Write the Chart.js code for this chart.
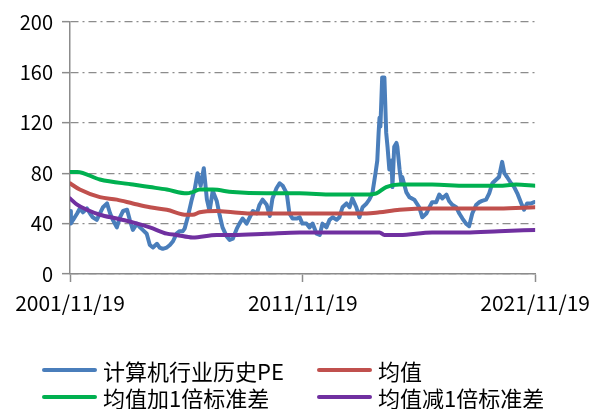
<!DOCTYPE html>
<html>
<head>
<meta charset="utf-8">
<script src="https://cdn.jsdelivr.net/npm/chart.js@4/dist/chart.umd.min.js"></script>
<style>
  html, body { margin: 0; padding: 0; background: #fff; }
  #wrap { position: relative; width: 598px; height: 409px; }
  #c { position: absolute; left: 0; top: 0; }
  .lg { position: absolute; display: flex; align-items: center; font-family: "Noto Sans CJK SC", sans-serif; font-size: 22px; color: #000; white-space: nowrap; line-height: 1; }
  .lg .sw { width: 55px; height: 4px; border-radius: 2px; margin-right: 6px; }
</style>
</head>
<body>
<div id="wrap">
  <canvas id="c" width="598" height="409"></canvas>
  <div id="legend"></div>
</div>
<script>
// x positions are weeks since 2001/11/19
const tickWeeks = [0, 522, 1043];
const tickLabels = ['2001/11/19', '2011/11/19', '2021/11/19'];

const seriesNames = ['计算机行业历史PE', '均值', '均值加1倍标准差', '均值减1倍标准差'];
const seriesColors = ['#4a7ebb', '#c0504d', '#00b050', '#7030a0'];

const peWeeks = [0,2,7,16,22,29,38,45,51,60,67,74,83,90,96,105,112,119,128,134,141,150,157,163,172,179,186,195,201,208,217,224,231,239,246,253,257,264,273,280,286,293,300,307,313,320,329,336,342,351,358,365,374,380,387,396,403,410,419,425,432,441,448,454,463,470,477,486,492,499,508,515,521,530,537,544,553,560,566,575,582,589,598,604,611,620,627,633,642,649,656,665,671,678,685,689,692,694,696,700,705,709,712,716,721,723,727,732,734,739,743,745,754,761,772,783,790,799,806,812,821,828,835,844,850,857,866,873,880,888,895,902,911,918,924,933,940,947,956,962,969,974,980,989,996,1003,1012,1018,1025,1034,1041];
const peValues = [50,40,43,48,52,49,52,48,45,43,48,53,56,48,43,37,45,50,51,43,35,40,37,35,32,23,21,24,21,20,21,23,26,32,34,34,36,45,59,68,80,70,84,59,50,66,58,46,37,30,27,28,36,40,44,40,45,50,48,55,59,55,46,60,68,72,70,64,48,44,44,45,40,40,37,40,32,31,40,37,43,45,43,45,53,56,53,60,53,45,53,56,59,64,80,90,112,124,117,156,156,112,101,83,90,69,101,104,101,83,72,77,65,61,59,53,45,48,53,57,57,63,60,63,58,55,53,48,44,40,38,48,55,57,58,59,64,72,75,77,89,80,77,72,69,64,56,51,56,56,57];

const meanWeeks = [0,22,67,105,141,179,217,262,275,291,329,365,403,515,589,665,694,739,812,962,1043];
const meanValues = [72,67,61,59,56,53,51,47,47,49,50,49,48,48,48,48,49,51,52,52,53];

const upperWeeks = [0,16,67,141,179,217,262,275,291,320,365,441,515,589,665,687,709,739,812,888,962,1000,1043];
const upperValues = [81,81,75,71,69,67,64,65,67,67,65,64,64,63,63,64,69,71,71,70,70,71,70];

const lowerWeeks = [0,16,38,67,105,141,179,217,239,275,329,365,441,515,665,694,705,739,812,888,962,1043];
const lowerValues = [60,55,51,47,44,41,37,32,31,29,31,31,32,33,33,33,31,31,33,33,34,35];

const yTicks = [0, 40, 80, 120, 160, 200];

function pts(xs, ys) { return xs.map((x, i) => ({ x: x, y: ys[i] })); }

const FONT = '"Noto Sans CJK SC", sans-serif';
const GRAY = '#8c8c8c';

const datasets = [
  { label: seriesNames[0], data: pts(peWeeks, peValues), borderColor: seriesColors[0], borderWidth: 4, tension: 0, order: 3 },
  { label: seriesNames[1], data: pts(meanWeeks, meanValues), borderColor: seriesColors[1], borderWidth: 4, cubicInterpolationMode: 'monotone', order: 2 },
  { label: seriesNames[2], data: pts(upperWeeks, upperValues), borderColor: seriesColors[2], borderWidth: 4, cubicInterpolationMode: 'monotone', order: 1 },
  { label: seriesNames[3], data: pts(lowerWeeks, lowerValues), borderColor: seriesColors[3], borderWidth: 4, cubicInterpolationMode: 'monotone', order: 0 }
];
datasets.forEach(d => { d.pointRadius = 0; d.fill = false; d.borderJoinStyle = 'round'; d.borderCapStyle = 'round'; });

const chart = new Chart(document.getElementById('c'), {
  type: 'line',
  data: { datasets: datasets },
  options: {
    responsive: false,
    animation: false,
    layout: { padding: { top: 22, right: 62, left: 0, bottom: 0 } },
    plugins: { legend: { display: false }, tooltip: { enabled: false } },
    scales: {
      x: {
        type: 'linear',
        min: tickWeeks[0],
        max: tickWeeks[tickWeeks.length - 1],
        afterBuildTicks: s => { s.ticks = tickWeeks.map(v => ({ value: v })); },
        afterFit: s => { s.height = 135; },
        ticks: {
          autoSkip: false,
          maxRotation: 0,
          padding: 8,
          color: '#000',
          font: { family: FONT, size: 21 },
          callback: v => tickLabels[tickWeeks.indexOf(v)]
        },
        grid: { display: true, drawOnChartArea: false, drawTicks: true, tickLength: 8, tickColor: GRAY, tickWidth: 1.5 },
        border: { display: true, color: GRAY, width: 1.5 }
      },
      y: {
        min: 0,
        max: 200,
        afterBuildTicks: s => { s.ticks = yTicks.map(v => ({ value: v })); },
        afterFit: s => { s.width = 70; },
        ticks: { padding: 9, color: '#000', font: { family: FONT, size: 20 } },
        grid: { color: GRAY, lineWidth: 1.3, tickLength: 8, tickColor: GRAY, tickWidth: 1.5, tickBorderDash: [] },
        border: { display: true, color: GRAY, width: 1.5, dash: [8, 4, 2, 4] }
      }
    }
  }
});

// legend built from the chart's datasets
const legend = document.getElementById('legend');
const colX = [42, 317];
const rowY = [370, 397];
chart.data.datasets.forEach((d, i) => {
  const item = document.createElement('div');
  item.className = 'lg';
  item.style.left = colX[i % 2] + 'px';
  item.style.top = (rowY[Math.floor(i / 2)] - 12) + 'px';
  item.style.height = '24px';
  const sw = document.createElement('span');
  sw.className = 'sw';
  sw.style.background = d.borderColor;
  const tx = document.createElement('span');
  tx.textContent = d.label;
  item.appendChild(sw);
  item.appendChild(tx);
  legend.appendChild(item);
});
</script>
</body>
</html>
